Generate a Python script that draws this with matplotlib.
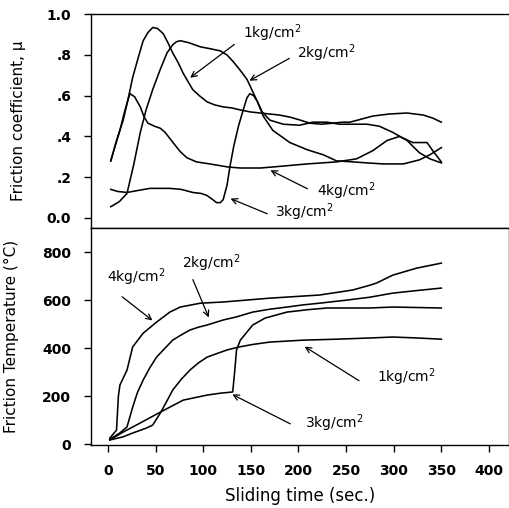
import matplotlib.pyplot as plt

plt.rcParams['font.family'] = ['DejaVu Sans']

# friction coefficient vs sliding time (top panel)
t_mu_1 = [3, 9, 16, 21, 26, 32, 37, 42, 47, 52, 58, 63, 68, 74, 79, 84, 89, 96, 104, 112, 121,
          130, 139, 150, 160, 170, 180, 191, 202, 212, 224, 236, 246, 254, 266, 278, 295, 314, 331, 341, 350]
mu_1 = [0.28, 0.38, 0.48, 0.58, 0.69, 0.79, 0.87, 0.91, 0.935, 0.93, 0.905, 0.86, 0.81, 0.76, 0.71, 0.67,
        0.63, 0.60, 0.57, 0.555, 0.545, 0.54, 0.53, 0.52, 0.515, 0.51, 0.505, 0.495, 0.48, 0.465, 0.46,
        0.465, 0.47, 0.47, 0.485, 0.50, 0.51, 0.515, 0.505, 0.49, 0.47]

t_mu_2 = [3, 12, 20, 27, 34, 40, 47, 55, 62, 68, 72, 76, 85, 97, 108, 118, 125, 131, 138, 146, 152,
          157, 162, 170, 184, 201, 215, 230, 243, 258, 272, 285, 299, 314, 327, 338, 350]
mu_2 = [0.055, 0.08, 0.12, 0.26, 0.42, 0.53, 0.63, 0.73, 0.81, 0.85, 0.865, 0.87, 0.86, 0.84, 0.83, 0.82,
        0.80, 0.77, 0.73, 0.68, 0.62, 0.57, 0.52, 0.48, 0.46, 0.455, 0.47, 0.47, 0.46, 0.46, 0.46, 0.45,
        0.42, 0.38, 0.32, 0.29, 0.27]

t_mu_3 = [3, 10, 20, 32, 44, 55, 65, 77, 89, 98, 104, 110, 114, 118, 121, 125, 128, 132, 137, 142, 146,
          149, 153, 157, 163, 173, 191, 209, 226, 240, 257, 272, 289, 310, 327, 338, 350]
mu_3 = [0.14, 0.13, 0.125, 0.135, 0.145, 0.145, 0.145, 0.14, 0.125, 0.12, 0.11, 0.09, 0.075, 0.075, 0.09,
        0.16, 0.25, 0.35, 0.45, 0.53, 0.59, 0.61, 0.60, 0.57, 0.50, 0.43, 0.37, 0.335, 0.31, 0.28, 0.275,
        0.27, 0.265, 0.265, 0.285, 0.31, 0.345]

t_mu_4 = [3, 8, 12, 18, 23, 28, 34, 38, 42, 49, 55, 60, 65, 70, 76, 83, 93, 107, 126, 139, 160, 173,
          209, 240, 261, 278, 293, 306, 320, 335, 341, 350]
mu_4 = [0.28, 0.36, 0.42, 0.53, 0.61, 0.595, 0.545, 0.495, 0.465, 0.45, 0.44, 0.42, 0.39, 0.36, 0.325,
        0.295, 0.275, 0.265, 0.25, 0.245, 0.245, 0.25, 0.265, 0.275, 0.29, 0.33, 0.38, 0.40, 0.37, 0.37,
        0.33, 0.275]

# friction temperature vs sliding time (bottom panel)
t_T_1 = [2, 16, 26, 40, 47, 55, 62, 68, 77, 86, 95, 104, 115, 125, 137, 152, 170, 205, 240, 275, 299, 325, 350]
T_1 = [17, 30, 46, 66, 79, 129, 180, 225, 270, 308, 338, 362, 378, 392, 404, 415, 425, 433, 437, 442, 446, 442, 437]

t_T_2 = [2, 12, 20, 26, 31, 37, 44, 51, 60, 68, 77, 86, 95, 104, 121, 135, 152, 170, 188, 205, 222, 251, 275, 299, 325, 350]
T_2 = [20, 45, 71, 154, 215, 267, 318, 362, 400, 433, 455, 475, 487, 496, 517, 530, 550, 562, 571, 580, 587, 600, 612, 629, 640, 650]

t_T_3 = [2, 16, 34, 55, 79, 104, 118, 131, 133, 135, 139, 146, 152, 165, 188, 210, 230, 275, 299, 350]
T_3 = [17, 50, 88, 133, 183, 204, 212, 217, 300, 392, 433, 467, 496, 525, 550, 560, 567, 567, 571, 567]

t_T_4 = [2, 9, 11, 12.6, 20, 26, 37, 51, 65, 76, 97, 121, 170, 222, 257, 275, 282, 299, 324, 350]
T_4 = [25, 58, 200, 246, 308, 405, 462, 508, 550, 571, 587, 592, 608, 621, 642, 662, 671, 704, 733, 754]

x_ticks = [0, 50, 100, 150, 200, 250, 300, 350, 400]
mu_ticks = [0.0, 0.2, 0.4, 0.6, 0.8, 1.0]
mu_tick_labels = ['0.0', '.2', '.4', '.6', '.8', '1.0']
T_ticks = [0, 200, 400, 600, 800]

fig = plt.figure(figsize=(5.10, 5.08), dpi=100)
ax1 = fig.add_axes([0.178, 0.551, 0.82, 0.421])
ax2 = fig.add_axes([0.178, 0.124, 0.82, 0.427])

for t, m in [(t_mu_1, mu_1), (t_mu_2, mu_2), (t_mu_3, mu_3), (t_mu_4, mu_4)]:
    ax1.plot(t, m, color='black', lw=1.15, solid_joinstyle='round')
for t, T in [(t_T_1, T_1), (t_T_2, T_2), (t_T_3, T_3), (t_T_4, T_4)]:
    ax2.plot(t, T, color='black', lw=1.15, solid_joinstyle='round')

for ax in (ax1, ax2):
    ax.set_xlim(-18, 421)
    ax.tick_params(direction='out', length=5, width=1, pad=9, labelsize=10)
    for s in ax.spines.values():
        s.set_linewidth(1)
    for lbl in ax.get_xticklabels() + ax.get_yticklabels():
        lbl.set_fontweight('bold')

ax1.set_ylim(-0.05, 1.0)
ax1.set_yticks(mu_ticks)
ax1.set_yticklabels(mu_tick_labels, fontweight='bold')
ax1.set_xticks([])
ax1.spines['right'].set_visible(False)
ax1.set_ylabel('Friction coefficient, μ', fontsize=11)
ax1.yaxis.set_label_coords(-0.155, 0.5)

ax2.set_ylim(-4, 900)
ax2.set_yticks(T_ticks)
ax2.set_yticklabels([str(v) for v in T_ticks], fontweight='bold')
ax2.set_xticks(x_ticks)
ax2.set_xticklabels([str(v) for v in x_ticks], fontweight='bold')
ax2.set_ylabel('Friction Temperature (°C)', fontsize=11)
ax2.yaxis.set_label_coords(-0.172, 0.5)
ax2.set_xlabel('Sliding time (sec.)', fontsize=12, labelpad=6)

arrow = dict(arrowstyle='->', color='black', lw=0.9, mutation_scale=10)
lab = dict(fontsize=10, va='center', ha='left')

ax1.annotate('', xy=(84, 0.68), xytext=(135, 0.86), arrowprops=arrow)
ax1.text(142, 0.905, '1kg/cm$^2$', **lab)
ax1.annotate('', xy=(146, 0.667), xytext=(193, 0.79), arrowprops=arrow)
ax1.text(198, 0.81, '2kg/cm$^2$', **lab)
ax1.annotate('', xy=(168, 0.24), xytext=(212, 0.137), arrowprops=arrow)
ax1.text(219, 0.13, '4kg/cm$^2$', **lab)
ax1.annotate('', xy=(126, 0.10), xytext=(170, 0.015), arrowprops=arrow)
ax1.text(175, 0.03, '3kg/cm$^2$', **lab)

ax2.annotate('', xy=(49, 508), xytext=(12.6, 621), arrowprops=arrow)
ax2.text(-1, 696, '4kg/cm$^2$', **lab)
ax2.annotate('', xy=(107, 517), xytext=(88, 696), arrowprops=arrow)
ax2.text(78, 754, '2kg/cm$^2$', **lab)
ax2.annotate('', xy=(204, 412), xytext=(266, 258), arrowprops=arrow)
ax2.text(282, 279, '1kg/cm$^2$', **lab)
ax2.annotate('', xy=(128, 212), xytext=(194, 79), arrowprops=arrow)
ax2.text(207, 87, '3kg/cm$^2$', **lab)

fig.savefig('out.png', dpi=100)
